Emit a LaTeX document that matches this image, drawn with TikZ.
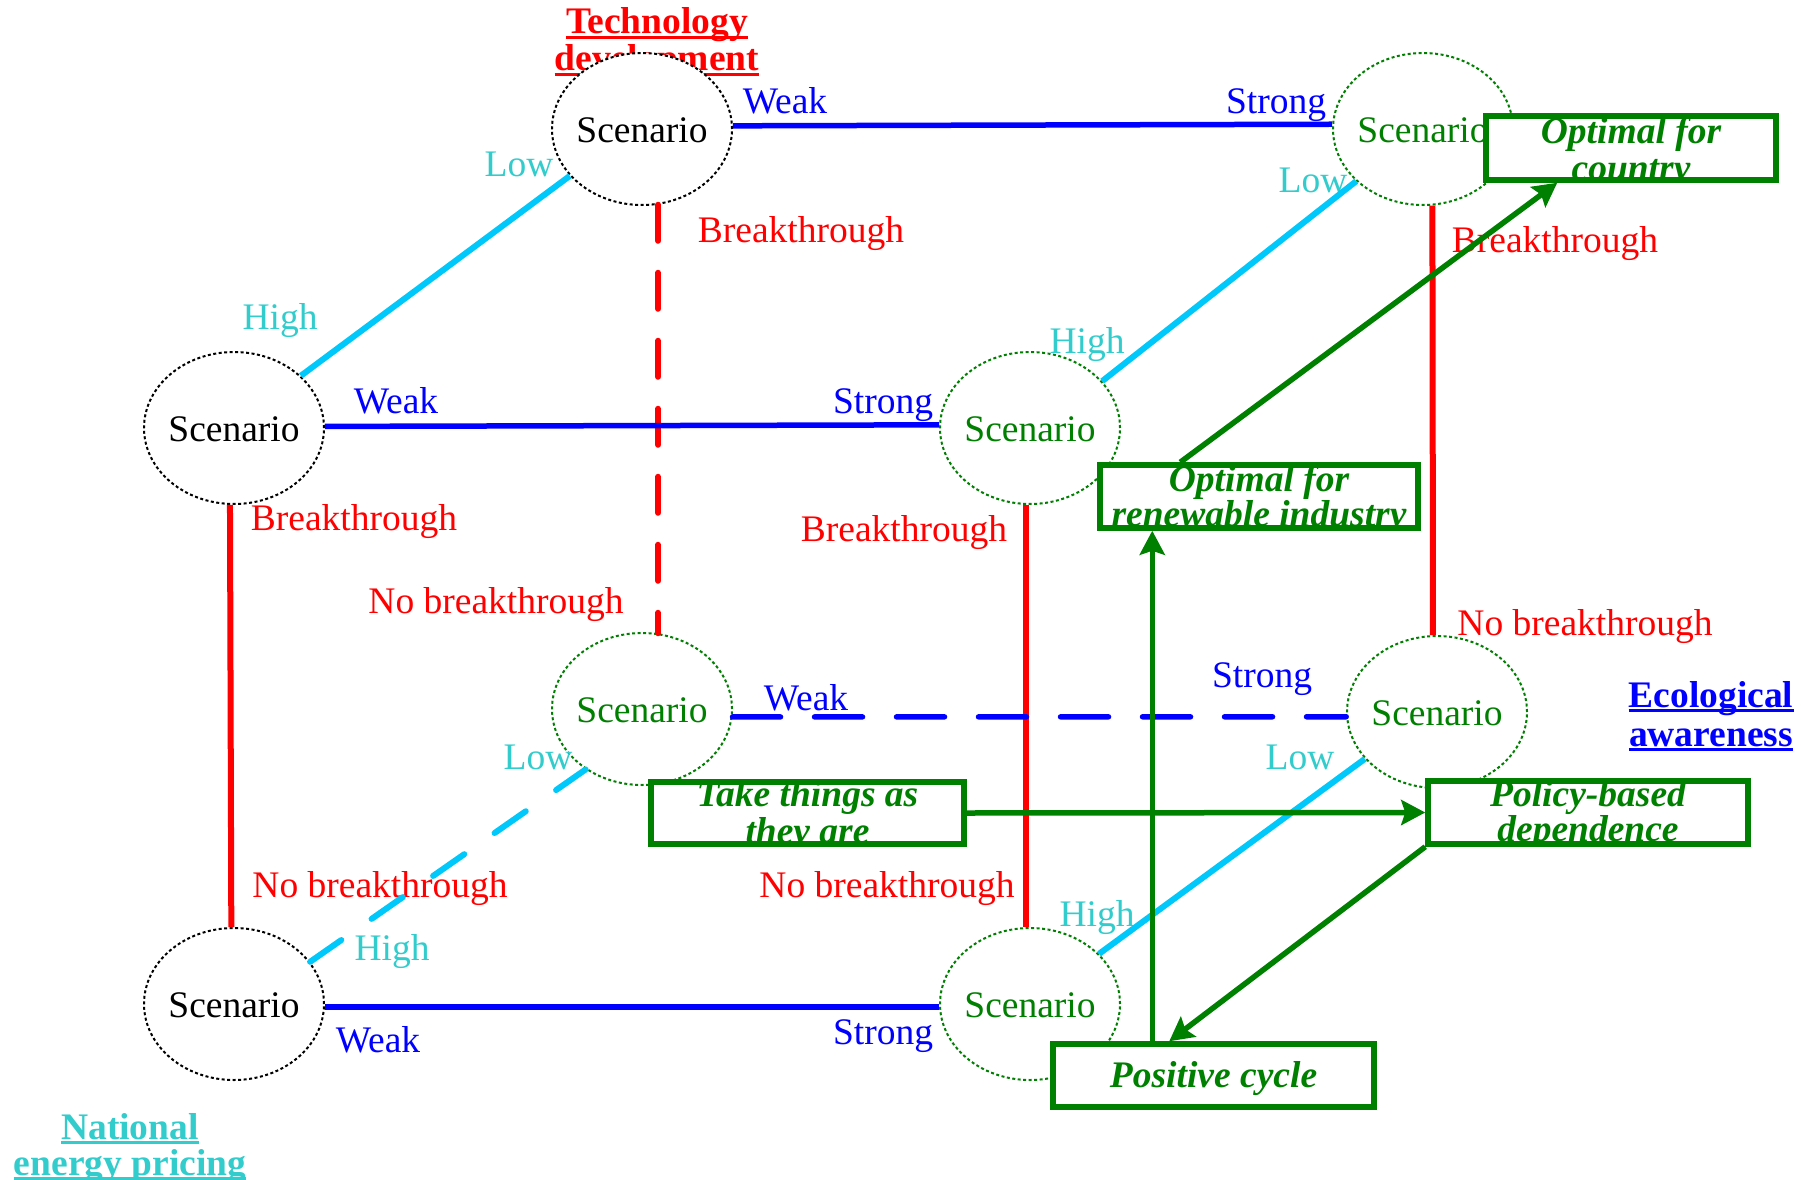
\documentclass[tikz,border=0pt]{standalone}
\usepackage{fontspec}
\setmainfont{Liberation Serif}
\usetikzlibrary{shapes.geometric,arrows.meta,calc}
\definecolor{cred}{RGB}{255,0,0}
\definecolor{cblue}{RGB}{0,0,255}
\definecolor{ccyan}{RGB}{0,200,250}
\definecolor{cteal}{RGB}{51,204,204}
\definecolor{cgreen}{RGB}{0,128,0}
\begin{document}
\begin{tikzpicture}[x=1pt,y=-1pt,
  lbl/.style={font=\fontsize{37.5}{37.5}\selectfont, anchor=base, inner sep=0pt},
  heading/.style={font=\fontsize{37.5}{37.5}\selectfont\bfseries, anchor=base, inner sep=0pt},
  scen/.style={ellipse, minimum width=180pt, minimum height=152pt, inner sep=0pt,
    fill=white, line width=2pt, dash pattern=on 3pt off 2.5pt,
    font=\fontsize{37.5}{37.5}\selectfont, text height=27pt, text depth=0pt},
  box/.style={rectangle, draw=cgreen, line width=5.5pt, fill=white, inner sep=0pt},
  btext/.style={font=\fontsize{37.5}{37.5}\selectfont\bfseries\itshape, text=cgreen,
    anchor=base, inner sep=0pt, minimum width=0pt, minimum height=0pt},
  arr/.style={draw=cgreen, line width=5.5pt, -{Stealth[length=24pt,width=25pt,inset=4pt]}},
  bline/.style={draw=cblue, line width=5.5pt},
  bdash/.style={bline, line cap=round, dash pattern=on 48pt off 34pt},
  rline/.style={draw=cred, line width=6pt},
  rdash/.style={rline, line cap=round, dash pattern=on 36pt off 32pt},
  cline/.style={draw=ccyan, line width=6pt},
  cdash/.style={cline, line cap=round, dash pattern=on 38pt off 37pt},
  uline/.style={line width=2.5pt}]

\fill[white] (0,0) rectangle (1801,1180);
\useasboundingbox (0,0) rectangle (1801,1180);

% axis headings, underlined
\node[heading, text=cred] (tt1) at (657,34) {Technology};
\node[heading, text=cred] (tt2) at (657,71) {development};
\node[heading, text=cblue] (te1) at (1711,707) {Ecological};
\node[heading, text=cblue] (te2) at (1711,746) {awareness};
\node[heading, text=cteal] (tn1) at (130,1139) {National};
\node[heading, text=cteal] (tn2) at (130,1175) {energy pricing};
\foreach \t/\c in {tt1/cred,tt2/cred,te1/cblue,te2/cblue,tn1/cteal,tn2/cteal}
  \draw[uline, draw=\c] ($(\t.base west)+(0,3.5)$) -- ($(\t.base east)+(0,3.5)$);

% scenario corners of the cube
\node[scen, draw=black, text=black]   (A) at (642,129)  {\makebox[0pt]{Scenario}};
\node[scen, draw=cgreen, text=cgreen] (B) at (1423,129) {\makebox[0pt]{Scenario}};
\node[scen, draw=black, text=black]   (C) at (234,428)  {\makebox[0pt]{Scenario}};
\node[scen, draw=cgreen, text=cgreen] (D) at (1030,428) {\makebox[0pt]{Scenario}};
\node[scen, draw=cgreen, text=cgreen] (E) at (642,709)  {\makebox[0pt]{Scenario}};
\node[scen, draw=cgreen, text=cgreen] (F) at (1437,712) {\makebox[0pt]{Scenario}};
\node[scen, draw=black, text=black]   (G) at (234,1004) {\makebox[0pt]{Scenario}};
\node[scen, draw=cgreen, text=cgreen] (H) at (1030,1004) {\makebox[0pt]{Scenario}};

% edge labels
\node[lbl, text=cblue] (l1) at (785,114) {Weak};
\node[lbl, text=cblue] (l2) at (1276,114) {Strong};
\node[lbl, text=cteal] (l3) at (519,176) {Low};
\node[lbl, text=cteal] (l4) at (280,329) {High};
\node[lbl, text=cred]  (l5) at (801,242) {Breakthrough};
\node[lbl, text=cblue] (l6) at (396,413) {Weak};
\node[lbl, text=cblue] (l7) at (883,413) {Strong};
\node[lbl, text=cred]  (l8) at (354,530) {Breakthrough};
\node[lbl, text=cred]  (l9) at (496,613) {No breakthrough};
\node[lbl, text=cred]  (l10) at (904,541) {Breakthrough};
\node[lbl, text=cteal] (l11) at (1087,353) {High};
\node[lbl, text=cteal] (l12) at (1313,192) {Low};
\node[lbl, text=cred]  (l13) at (1555,252) {Breakthrough};
\node[lbl, text=cred]  (l14) at (1585,635) {No breakthrough};
\node[lbl, text=cblue] (l15) at (1262,687) {Strong};
\node[lbl, text=cblue] (l16) at (806,710) {Weak};
\node[lbl, text=cteal] (l17) at (538,769) {Low};
\node[lbl, text=cteal] (l18) at (1300,769) {Low};
\node[lbl, text=cred]  (l19) at (380,897) {No breakthrough};
\node[lbl, text=cred]  (l20) at (887,897) {No breakthrough};
\node[lbl, text=cteal] (l21) at (392,960) {High};
\node[lbl, text=cteal] (l22) at (1097,926) {High};
\node[lbl, text=cblue] (l23) at (378,1052) {Weak};
\node[lbl, text=cblue] (l24) at (883,1044) {Strong};

% technology development edges
\draw[rdash] (A.-78.7) -- (E.78.7);
\draw[rline] (C.267.7) -- (G.92.3);
\draw[rline] (D.267) -- (H.93);
\draw[rline] (B.-83.2) -- (F.93.8);

% ecological awareness edges
\draw[bline] (A.2.5) -- (B.177.5);
\draw[bline] (C.1.9) -- (D.178.1);
\draw[bline] (G.-2.5) -- (H.182.5);
\draw[bdash] (E.-5.75) -- (F.183.8);

% energy pricing edges
\draw[cline] (C.38.2) -- (A.213.5);
\draw[cline] (D.33.9) -- (B.218.6);
\draw[cdash] (G.29.5) -- (E.227);
\draw[cline] (H.36.5) -- (F.213.3);

% outcome boxes
\node[box, minimum width=290pt, minimum height=64pt, path picture={
  \node[btext] (k1) at ($(path picture bounding box.center)+(0,-5)$) {Optimal for};
  \node[btext] (k2) at ($(path picture bounding box.center)+(0,32)$) {country};
}] (K) at (1631,148) {};
\node[box, minimum width=318pt, minimum height=63pt, path picture={
  \node[btext] (r1) at ($(path picture bounding box.center)+(0,-5)$) {Optimal for};
  \node[btext] (r2) at ($(path picture bounding box.center)+(0,30)$) {renewable industry};
}] (R) at (1259,496.5) {};
\node[box, minimum width=313pt, minimum height=62pt, path picture={
  \node[btext] (t1) at ($(path picture bounding box.center)+(0,-6.5)$) {Take things as};
  \node[btext] (t2) at ($(path picture bounding box.center)+(0,30)$) {they are};
}] (T) at (807.5,813) {};
\node[box, minimum width=320pt, minimum height=63pt, path picture={
  \node[btext] (p1) at ($(path picture bounding box.center)+(0,-6.5)$) {Policy-based};
  \node[btext] (p2) at ($(path picture bounding box.center)+(0,29)$) {dependence};
}] (P) at (1588,812.5) {};
\node[box, minimum width=321pt, minimum height=63pt, path picture={
  \node[btext] (c1) at ($(path picture bounding box.center)+(0,12)$) {Positive cycle};
}] (Pc) at (1213.5,1075.5) {};

% transitions between outcomes
\draw[arr] ($(R.north west)+(83,0)$) -- ($(K.south west)+(74,0)$);
\draw[arr] (T.east) -- (P.west);
\draw[arr] (P.south west) -- ($(Pc.north west)+(119,0)$);
\draw[arr] ($(Pc.north west)+(102,0)$) -- ($(R.south west)+(55,0)$);
\end{tikzpicture}
\end{document}
